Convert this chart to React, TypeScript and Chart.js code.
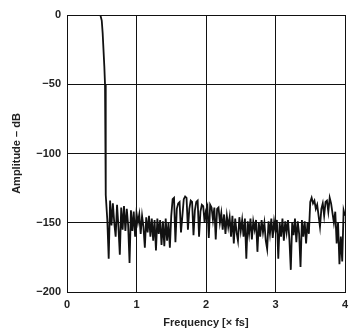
import React, { useEffect, useRef } from "react";
import { Chart, registerables } from "chart.js";

Chart.register(...registerables);

// Passband and transition (frequency in × fs, amplitude in dB)
const passFreq = [0, 0.48, 0.5, 0.513, 0.537, 0.547, 0.555];
const passDb = [0, 0, -4, -13, -37, -50, -100];

// Stopband noise sampled every 0.02 × fs starting at 0.56
const noiseStart = 0.56;
const noiseStep = 0.02;
// 0.56 – 1.00
const noiseA = [
  -130, -148, -176, -134, -152, -136, -150, -160, -137, -153, -173, -139,
  -155, -138, -156, -140, -152, -179, -141, -156, -142, -160, -143,
];
// 1.02 – 1.50
const noiseB = [
  -150, -144, -158, -145, -153, -168, -146, -157, -145, -160, -147, -163,
  -148, -170, -147, -158, -148, -166, -149, -167, -147, -163, -150, -168, -145,
];
// 1.52 – 2.20
const noiseC = [
  -133, -132, -164, -140, -136, -135, -157, -145, -133, -131, -132, -155,
  -140, -134, -135, -159, -141, -135, -134, -160, -142, -137, -138, -150,
  -141, -138, -161, -137, -139, -148, -139, -162, -140, -139, -150,
];
// 2.22 – 3.48
const noiseD = [
  -143, -155, -144, -158, -145, -153, -146, -160, -145, -165, -147, -157,
  -163, -146, -156, -148, -160, -147, -176, -149, -158, -147, -162, -149,
  -155, -148, -171, -150, -160, -148, -157, -150, -163, -169, -149, -158,
  -147, -161, -149, -156, -148, -176, -150, -160, -147, -163, -149, -157,
  -148, -162, -184, -150, -159, -147, -164, -149, -158, -182, -148, -160,
  -149, -165, -150, -158,
];
// 3.50 – 4.00
const noiseE = [
  -135, -132, -136, -134, -140, -137, -145, -153, -140, -136, -145, -135,
  -134, -142, -132, -136, -143, -150, -142, -165, -150, -180, -160, -178,
  -141, -145,
];

const xTicks = [0, 1, 2, 3, 4];
const yTicks = [0, -50, -100, -150, -200];
const xTitle = "Frequency [× fs]";
const yTitle = "Amplitude – dB";

export default function App() {
  const ref = useRef<HTMLCanvasElement>(null);

  useEffect(() => {
    if (!ref.current) return;
    const noise = [...noiseA, ...noiseB, ...noiseC, ...noiseD, ...noiseE];
    const points = passFreq
      .map((f, i) => ({ x: f, y: passDb[i] }))
      .concat(
        noise.map((v, i) => ({
          x: +(noiseStart + i * noiseStep).toFixed(2),
          y: v,
        }))
      );
    const font = { family: "'Liberation Sans', Arial, sans-serif", size: 11, weight: "bold" as const };
    const chart = new Chart(ref.current, {
      type: "line",
      data: {
        datasets: [
          {
            data: points,
            borderColor: "#111",
            borderWidth: 1.8,
            borderJoinStyle: "miter",
            pointRadius: 0,
            tension: 0,
            fill: false,
          },
        ],
      },
      options: {
        animation: false,
        responsive: false,
        events: [],
        layout: { padding: { top: 15, right: 15, left: 0, bottom: 0 } },
        plugins: { legend: { display: false }, tooltip: { enabled: false } },
        scales: {
          x: {
            type: "linear",
            min: xTicks[0],
            max: xTicks[xTicks.length - 1],
            afterFit: (s: any) => {
              s.height = 43;
            },
            afterBuildTicks: (s: any) => {
              s.ticks = xTicks.map((v) => ({ value: v }));
            },
            grid: { color: "#111", lineWidth: 1, drawTicks: false },
            border: { color: "#111", width: 1 },
            ticks: { color: "#222", font, padding: 6 },
            title: {
              display: true,
              text: xTitle,
              color: "#222",
              font,
              padding: { top: 0, bottom: 5 },
            },
          },
          y: {
            type: "linear",
            min: yTicks[yTicks.length - 1],
            max: yTicks[0],
            afterFit: (s: any) => {
              s.width = 67;
            },
            afterBuildTicks: (s: any) => {
              s.ticks = yTicks.map((v) => ({ value: v }));
            },
            grid: { color: "#111", lineWidth: 1, drawTicks: false },
            border: { color: "#111", width: 1 },
            ticks: {
              color: "#222",
              font,
              padding: 6,
              callback: (v: any) => (v < 0 ? "−" + Math.abs(v) : String(v)),
            },
            title: {
              display: true,
              text: yTitle,
              color: "#222",
              font,
              padding: { top: 10, bottom: 0 },
            },
          },
        },
      },
    });
    return () => chart.destroy();
  }, []);

  return (
    <div style={{ position: "absolute", left: 0, top: 0, width: 360, height: 335, background: "#fff" }}>
      <canvas ref={ref} width={360} height={335} />
    </div>
  );
}
